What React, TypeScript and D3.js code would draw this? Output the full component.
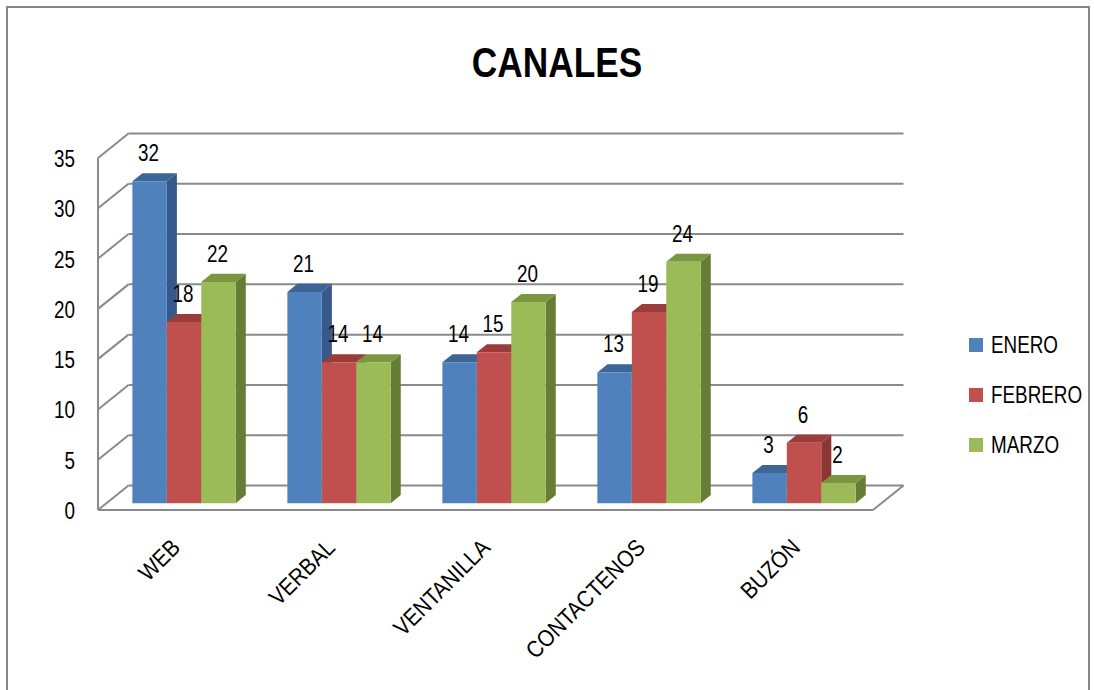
import React from "react";
import * as d3 from "d3";

const categories = ["WEB", "VERBAL", "VENTANILLA", "CONTACTENOS", "BUZÓN"];
const seriesNames = ["ENERO", "FEBRERO", "MARZO"];
const enero = [32, 21, 14, 13, 3];
const febrero = [18, 14, 15, 19, 6];
const marzo = [22, 14, 20, 24, 2];
const yTicks = [0, 5, 10, 15, 20, 25, 30, 35];

const seriesValues = [enero, febrero, marzo];
const frontColors = ["#4F81BD", "#C0504D", "#9BBB59"];
const topColors = ["#3D6596", "#9A3D3A", "#7B9640"];
const sideColors = ["#35598A", "#8A3734", "#667D35"];

const FONT = "'Liberation Sans', Arial, sans-serif";

type TProps = {
  x: number;
  y: number;
  anchor?: "start" | "middle" | "end";
  size?: number;
  bold?: boolean;
  rotate?: number;
  sx?: number;
  children: React.ReactNode;
};

// horizontally compressed text to mimic a narrow (Calibri-like) face
function NText({ x, y, anchor = "start", size = 23, bold = false, rotate = 0, sx = 0.82, children }: TProps) {
  return (
    <text
      x={0}
      y={0}
      transform={`translate(${x},${y}) rotate(${rotate}) scale(${sx},1)`}
      textAnchor={anchor}
      fontFamily={FONT}
      fontSize={size}
      fontWeight={bold ? "bold" : "normal"}
      fill="#000"
    >
      {children}
    </text>
  );
}

export default function App() {
  const W = 1094;
  const H = 690;
  const x0 = 98;
  const x1 = 873;
  const DX = 30.5;
  const DY = -24.5;
  const zFront = 0.28;
  const zBack = 0.61;

  const y = d3.scaleLinear().domain([0, 35]).range([510, 158]);
  const band = d3.scaleBand<string>().domain(categories).range([x0, x1]).paddingInner(0).paddingOuter(0);
  const bw = band.bandwidth();
  const barW = bw / 4.5;
  const gap = barW * 0.75;

  const P = (x: number, v: number, z: number): [number, number] => [x + DX * z, y(v) + DY * z];
  const poly = (pts: [number, number][]) => pts.map((p) => p.join(",")).join(" ");

  const gridColor = "#8A8A8A";

  const bars: React.ReactNode[] = [];
  const labels: React.ReactNode[] = [];
  categories.forEach((c, i) => {
    seriesValues.forEach((vals, j) => {
      const v = vals[i];
      const xl = (band(c) as number) + gap + j * barW;
      const xr = xl + barW;
      const fbl = P(xl, 0, zFront);
      const fbr = P(xr, 0, zFront);
      const ftl = P(xl, v, zFront);
      const ftr = P(xr, v, zFront);
      const btl = P(xl, v, zBack);
      const btr = P(xr, v, zBack);
      const bbr = P(xr, 0, zBack);
      bars.push(
        <g key={`b-${i}-${j}`}>
          <polygon points={poly([fbr, ftr, btr, bbr])} fill={sideColors[j]} />
          <polygon points={poly([ftl, ftr, btr, btl])} fill={topColors[j]} />
          <polygon points={poly([fbl, fbr, ftr, ftl])} fill={frontColors[j]} />
        </g>
      );
      labels.push(
        <NText key={`l-${i}-${j}`} x={(xl + xr) / 2 + DX * zFront - 1} y={btl[1] - 12} anchor="middle">
          {v}
        </NText>
      );
    });
  });

  return (
    <svg
      width={W}
      height={H}
      viewBox={`0 0 ${W} ${H}`}
      style={{ position: "absolute", left: 0, top: 0, background: "#fff" }}
    >
      <rect x={0} y={0} width={W} height={H} fill="#fff" />
      <rect x={7} y={7} width={1082} height={720} fill="none" stroke="#878787" strokeWidth={2} />

      <NText x={557} y={77} anchor="middle" size={43} bold>
        CANALES
      </NText>

      <g stroke={gridColor} strokeWidth={2} fill="none">
        {yTicks.map((t) => (
          <g key={`g-${t}`}>
            <line x1={x0 + DX} y1={y(t) + DY} x2={x1 + DX} y2={y(t) + DY} />
            <line x1={x0} y1={y(t)} x2={x0 + DX} y2={y(t) + DY} />
          </g>
        ))}
        <line x1={x0} y1={y(35)} x2={x0} y2={y(0)} />
        <line x1={x0} y1={y(0)} x2={x1} y2={y(0)} />
        <line x1={x1} y1={y(0)} x2={x1 + DX} y2={y(0) + DY} />
      </g>

      {yTicks.map((t) => (
        <NText key={`t-${t}`} x={75} y={y(t) + 9} anchor="end">
          {t}
        </NText>
      ))}

      {bars}
      {labels}

      {categories.map((c) => {
        const cx = (band(c) as number) + bw / 2 + 6;
        const cy = 549;
        return (
          <NText key={`x-${c}`} x={cx} y={cy} rotate={-45} anchor="end" size={23.5} sx={0.88}>
            {c}
          </NText>
        );
      })}

      {seriesNames.map((s, j) => (
        <g key={`lg-${s}`}>
          <rect x={969} y={338 + j * 50} width={14} height={14} fill={frontColors[j]} />
          <NText x={991} y={353 + j * 50}>
            {s}
          </NText>
        </g>
      ))}
    </svg>
  );
}
